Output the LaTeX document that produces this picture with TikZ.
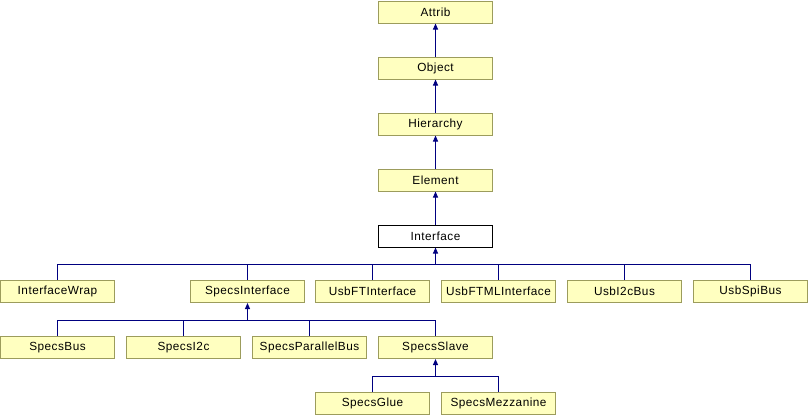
\documentclass[tikz,border=0pt]{standalone}
\usepackage{fontspec}
\setmainfont{Liberation Sans}[LetterSpace=4]
\usetikzlibrary{arrows.meta}
\definecolor{boxfill}{HTML}{FFFFC0}
\definecolor{boxline}{HTML}{9C9C5C}
\definecolor{edge}{HTML}{000080}
\begin{document}
\begin{tikzpicture}[x=1pt,y=1pt,
  cls/.style={draw=boxline,fill=boxfill,line width=1pt,minimum width=114pt,minimum height=22pt,inner sep=0pt,font=\fontsize{11.8}{13}\selectfont},
  cur/.style={cls,draw=black,fill=white},
  edge/.style={draw=edge,line width=1pt},
  inh/.style={edge,{Triangle[width=5pt,length=6pt]}-}]
\useasboundingbox (0,0) rectangle (809,-416);
\node[cls] (attrib) at (435.5,-12) {Attrib};
\node[cls] (object) at (435.5,-68) {Object};
\node[cls] (hier) at (435.5,-124) {Hierarchy};
\node[cls] (elem) at (435.5,-180) {Element};
\node[cur] (iface) at (435.5,-236) {Interface};
\node[cls] (iwrap) at (57.5,-291.5) {InterfaceWrap};
\node[cls] (sif) at (247.5,-291.5) {SpecsInterface};
\node[cls] (uftif) at (372.5,-291.5) {UsbFTInterface};
\node[cls] (uftml) at (498.5,-291.5) {UsbFTMLInterface};
\node[cls] (ui2c) at (624.5,-291.5) {UsbI2cBus};
\node[cls] (uspi) at (750.5,-291.5) {UsbSpiBus};
\node[cls] (sbus) at (57.5,-347.5) {SpecsBus};
\node[cls] (si2c) at (183.5,-347.5) {SpecsI2c};
\node[cls] (spar) at (309.5,-347.5) {SpecsParallelBus};
\node[cls] (sslave) at (435.5,-347.5) {SpecsSlave};
\node[cls] (sglue) at (372.5,-403.5) {SpecsGlue};
\node[cls] (smezz) at (498.5,-403.5) {SpecsMezzanine};
\draw[inh] (attrib.south) -- (object.north);
\draw[inh] (object.south) -- (hier.north);
\draw[inh] (hier.south) -- (elem.north);
\draw[inh] (elem.south) -- (iface.north);
\coordinate (j1) at (435.5,-264.5);
\coordinate (j2) at (247.5,-320.5);
\coordinate (j3) at (435.5,-376.5);
\draw[inh] (iface.south) -- (j1);
\foreach \c in {iwrap,sif,uftif,uftml,ui2c,uspi} \draw[edge] (j1) -| (\c.north);
\draw[inh] (sif.south) -- (j2);
\foreach \c in {sbus,si2c,spar,sslave} \draw[edge] (j2) -| (\c.north);
\draw[inh] (sslave.south) -- (j3);
\foreach \c in {sglue,smezz} \draw[edge] (j3) -| (\c.north);
\end{tikzpicture}
\end{document}
